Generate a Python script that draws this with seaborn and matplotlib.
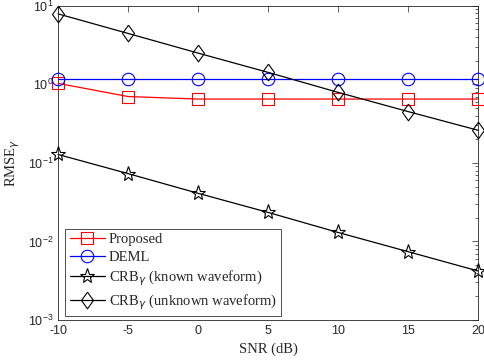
import numpy as np
import pandas as pd
import matplotlib
matplotlib.use("Agg")
import matplotlib.pyplot as plt
import seaborn as sns


# RMSE of gamma vs SNR
snr = [-10, -5, 0, 5, 10, 15, 20]
proposed = [1.03, 0.70, 0.65, 0.65, 0.65, 0.65, 0.65]
deml = [1.17, 1.17, 1.17, 1.17, 1.17, 1.17, 1.17]
crb_known = [0.128, 0.073, 0.041, 0.0234, 0.013, 0.0074, 0.0042]
crb_unknown = [7.9, 4.45, 2.5, 1.42, 0.79, 0.45, 0.26]

labels = ['Proposed', 'DEML',
          'CRB$_\\gamma$ (known waveform)',
          'CRB$_\\gamma$ (unknown waveform)']

sns.set_style("white")
plt.rcParams['font.family'] = ['Liberation Sans', 'DejaVu Sans']
plt.rcParams['mathtext.fontset'] = 'custom'
plt.rcParams['mathtext.rm'] = 'Liberation Sans'
plt.rcParams['axes.unicode_minus'] = False

fig = plt.figure(figsize=(4.84, 3.64), dpi=100)
ax = fig.add_axes([0.12, 0.121, 0.868, 0.863])

# matlab-like diamond, a bit taller than wide
diamond = [(0, 1), (0.72, 0), (0, -1), (-0.72, 0), (0, 1)]

styles = [
    (proposed, 'red', 's', 8),
    (deml, 'blue', 'o', 9),
    (crb_known, 'black', '*', 11),
    (crb_unknown, 'black', diamond, 12),
]
for (vals, col, mk, ms), lab in zip(styles, labels):
    df = pd.DataFrame({'snr': snr, 'rmse': vals})
    sns.lineplot(data=df, x='snr', y='rmse', ax=ax, color=col, marker=mk,
                 markersize=ms, markerfacecolor='none', markeredgecolor=col,
                 markeredgewidth=0.8, linewidth=0.9, label=lab, clip_on=False,
                 zorder=3)

ax.set_yscale('log')
ax.set_xlim(-10, 20)
ax.set_ylim(1e-3, 1e1)
ax.set_xticks([-10, -5, 0, 5, 10, 15, 20])
ax.tick_params(which='both', direction='in', top=True, right=True,
               labelsize=9, colors='#262626', width=0.5)
ax.tick_params(which='major', length=4)
ax.tick_params(which='minor', length=2)
for s in ax.spines.values():
    s.set_linewidth(0.6)
    s.set_color('#262626')

ax.set_xlabel('SNR (dB)', family='Liberation Serif', fontsize=10.5)
ax.set_ylabel('RMSE$_\\gamma$', family='Liberation Serif', fontsize=10.5)

leg = ax.legend(loc='lower left', bbox_to_anchor=(0.017, 0.012),
                prop={'family': 'Liberation Serif', 'size': 10.5},
                frameon=True, fancybox=False, edgecolor='black',
                borderpad=0.3, labelspacing=0.3, handlelength=2.4,
                handletextpad=0.3, borderaxespad=0.0)
leg.get_frame().set_linewidth(0.6)
leg.set_zorder(5)

fig.savefig('out.png', dpi=100)
